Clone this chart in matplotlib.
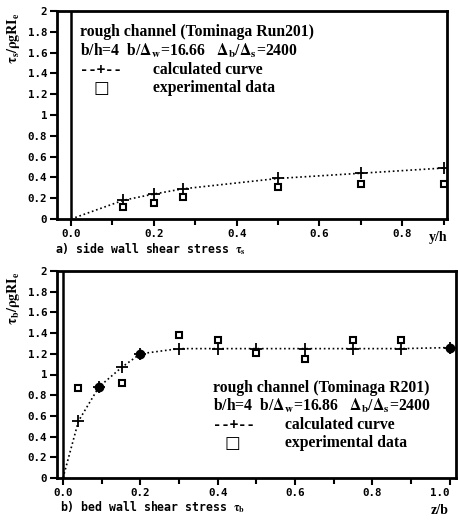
# side wall / bed wall shear stress, rough channel (Tominaga Run201)
import numpy as np
import matplotlib.pyplot as plt

plt.rcParams['mathtext.fontset'] = 'stix'

# a) side wall
y_calc = [0.0, 0.126, 0.2, 0.27, 0.5, 0.7, 0.9]
ts_calc = [0.0, 0.18, 0.24, 0.29, 0.39, 0.44, 0.49]
y_exp = [0.126, 0.2, 0.27, 0.5, 0.7, 0.9]
ts_exp = [0.115, 0.15, 0.21, 0.31, 0.335, 0.335]

# b) bed wall
z_calc = [0.0, 0.04, 0.093, 0.152, 0.2, 0.3, 0.4, 0.5, 0.625, 0.75, 0.875, 1.0]
tb_calc = [0.0, 0.55, 0.88, 1.07, 1.2, 1.25, 1.25, 1.25, 1.25, 1.25, 1.25, 1.26]
z_exp = [0.04, 0.152, 0.3, 0.4, 0.5, 0.625, 0.75, 0.875]
tb_exp = [0.87, 0.92, 1.38, 1.33, 1.21, 1.15, 1.33, 1.33]
z_both = [0.093, 0.2, 1.0]      # points where both coincide (filled)
tb_both = [0.88, 1.2, 1.26]

y_ticks = [0, 0.2, 0.4, 0.6, 0.8, 1.0, 1.2, 1.4, 1.6, 1.8, 2.0]
y_ticklabels = ['0', '0.2', '0.4', '0.6', '0.8', '1', '1.2', '1.4', '1.6', '1.8', '2']

serif = ['Liberation Serif', 'DejaVu Serif']
mono = 'DejaVu Sans Mono'
fs = 11.3

fig = plt.figure(figsize=(4.58, 5.21), dpi=100)
ax1 = fig.add_axes([57/458, 1-219/521, 390/458, 208/521])
ax2 = fig.add_axes([57/458, 1-478/521, 399/458, 207/521])


def style(ax, xmajor, xminor, xlabels):
    ax.set_ylim(0, 2)
    ax.set_yticks(y_ticks)
    ax.set_yticklabels(y_ticklabels, fontfamily=mono, fontweight='bold', fontsize=7.8)
    ax.set_xticks(xminor, minor=True)
    ax.set_xticks(xmajor)
    ax.set_xticklabels(xlabels, fontfamily=mono, fontweight='bold', fontsize=7.8)
    ax.tick_params(which='both', direction='out', width=1.5, length=5, pad=2)
    ax.tick_params(which='minor', length=4)
    for s in ax.spines.values():
        s.set_linewidth(2)
    ax.axvline(0, color='k', lw=1.8)


def legend_text(ax, x0, x1, xsq, ys, lines):
    kw = dict(transform=ax.transAxes, family=serif, fontsize=fs, fontweight='bold', va='center')
    ax.text(x0, ys[0], lines[0], **kw)
    ax.text(x0, ys[1], lines[1], **kw)
    ax.text(x0, ys[2], '--+--', transform=ax.transAxes, family=mono, fontsize=10,
            fontweight='bold', va='center')
    ax.text(x1, ys[2], 'calculated curve', **kw)
    ax.text(xsq, ys[3], '□', transform=ax.transAxes, family=['DejaVu Sans'], fontsize=12,
            fontweight='bold', ha='center', va='center')
    ax.text(x1, ys[3], 'experimental data', **kw)


# top panel
ax1.plot(y_calc, ts_calc, color='k', ls=':', lw=1.2)
ax1.plot(y_calc[1:], ts_calc[1:], ls='none', marker='+', ms=8, mew=1.3, color='k')
ax1.plot(y_exp, ts_exp, ls='none', marker='s', ms=5, mfc='white', mec='k', mew=1.5)
ax1.set_xlim(-0.034, 0.908)
style(ax1, [0, 0.2, 0.4, 0.6, 0.8], np.arange(0, 0.95, 0.1),
      ['0.0', '0.2', '0.4', '0.6', '0.8'])
legend_text(ax1, 0.059, 0.246, 0.115, [0.899, 0.808, 0.716, 0.63],
            ['rough channel (Tominaga Run201)',
             r'b/h=4  b/$\mathbf{\Delta_w}$=16.66   $\mathbf{\Delta_b}$/$\mathbf{\Delta_s}$=2400'])

# bottom panel
ax2.plot(z_calc, tb_calc, color='k', ls=':', lw=1.2)
ax2.plot(z_calc[1:], tb_calc[1:], ls='none', marker='+', ms=8, mew=1.3, color='k')
ax2.plot(z_exp, tb_exp, ls='none', marker='s', ms=5, mfc='white', mec='k', mew=1.5)
ax2.plot(z_both, tb_both, ls='none', marker='o', ms=6, color='k')
ax2.set_xlim(-0.0155, 1.016)
style(ax2, [0, 0.2, 0.4, 0.6, 0.8, 1.0], np.arange(0, 1.05, 0.1),
      ['0.0', '0.2', '0.4', '0.6', '0.8', '1.0'])
ax2.get_xticklabels()[-1].set_horizontalalignment('right')
legend_text(ax2, 0.391, 0.571, 0.439, [0.435, 0.348, 0.256, 0.169],
            ['rough channel (Tominaga R201)',
             r'b/h=4  b/$\mathbf{\Delta_w}$=16.86   $\mathbf{\Delta_b}$/$\mathbf{\Delta_s}$=2400'])

# axis labels and captions
fig.text(13/458, 1-38/521, r'$\mathbf{\tau_s/\rho gRI_e}$', rotation=90, ha='center',
         va='center', fontsize=10)
fig.text(13/458, 1-298/521, r'$\mathbf{\tau_b/\rho gRI_e}$', rotation=90, ha='center',
         va='center', fontsize=10)
fig.text(438/458, 1-238/521, 'y/h', family=serif, fontsize=10, fontweight='bold',
         ha='center', va='center')
fig.text(440/458, 1-510/521, 'z/b', family=serif, fontsize=10, fontweight='bold',
         ha='center', va='center')
fig.text(55/458, 1-249/521, r'a) side wall shear stress $\mathbf{\tau_s}$', family=mono,
         fontsize=8.3, fontweight='bold', va='center')
fig.text(60/458, 1-507/521, r'b) bed wall shear stress $\mathbf{\tau_b}$', family=mono,
         fontsize=8.3, fontweight='bold', va='center')

fig.savefig('out.png', dpi=100)
